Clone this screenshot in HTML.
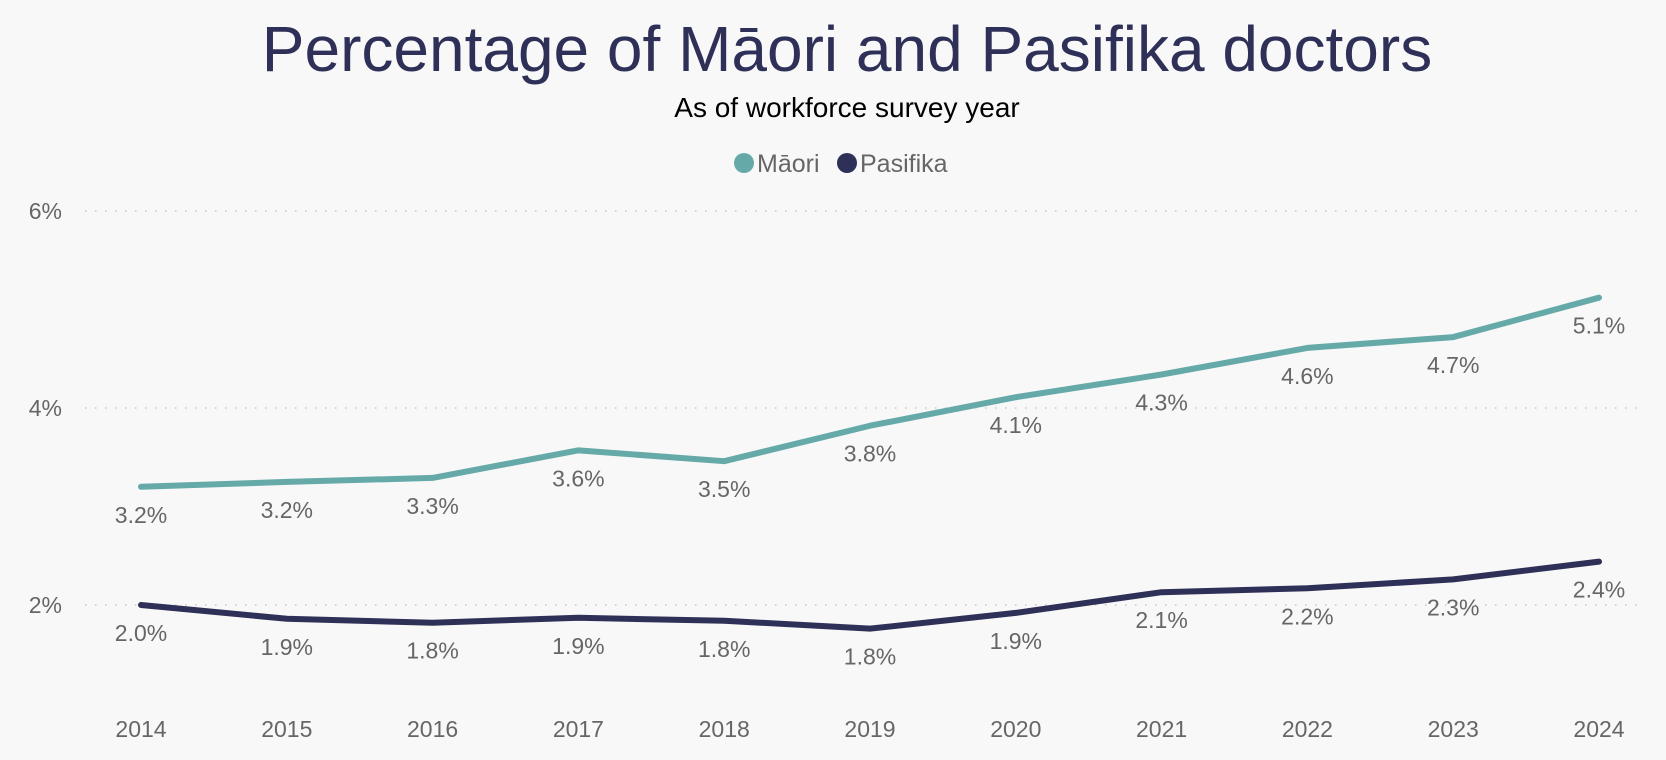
<!DOCTYPE html>
<html><head><meta charset="utf-8"><style>
body{margin:0;background:#f8f8f8;font-family:"Liberation Sans",sans-serif;}
svg{display:block}
</style></head><body>
<svg id="c" width="1666" height="760">
<rect width="1666" height="760" fill="#f8f8f8"/>
<text x="847" y="71" text-anchor="middle" font-size="64" fill="#2e3058">Percentage of Māori and Pasifika doctors</text>
<text x="847" y="117" text-anchor="middle" font-size="28" fill="#000">As of workforce survey year</text>
<g>
<g><circle cx="744" cy="163" r="10" fill="#66a9a9"/><text x="757" y="172" font-size="25" fill="#666">Māori</text></g>
<g><circle cx="847" cy="163" r="10" fill="#2e3058"/><text x="860" y="172" font-size="25" fill="#666">Pasifika</text></g>
</g>
<g id="grid"></g><g id="series"></g><g id="labels"></g>
</svg>
<script>
const years=["2014","2015","2016","2017","2018","2019","2020","2021","2022","2023","2024"];
const maori=[3.2,3.25,3.29,3.57,3.46,3.82,4.11,4.34,4.61,4.72,5.12];
const pasifika=[2.0,1.86,1.82,1.87,1.84,1.76,1.92,2.13,2.17,2.26,2.44];
const maoriLabels=["3.2%","3.2%","3.3%","3.6%","3.5%","3.8%","4.1%","4.3%","4.6%","4.7%","5.1%"];
const pasifikaLabels=["2.0%","1.9%","1.8%","1.9%","1.8%","1.8%","1.9%","2.1%","2.2%","2.3%","2.4%"];
const yTicks=[2,4,6];
const NS="http://www.w3.org/2000/svg";
const x=i=>141+i*(1599-141)/(years.length-1);
const y=v=>211+(6-v)*98.5;
function mk(t,a,p){const e=document.createElementNS(NS,t);for(const k in a)e.setAttribute(k,a[k]);p.appendChild(e);return e;}
const grid=document.getElementById('grid'),ser=document.getElementById('series'),lab=document.getElementById('labels');
yTicks.forEach(t=>{
 const l=mk('line',{x1:85,x2:1645,y1:y(t),y2:y(t),stroke:'#c8c8c8','stroke-width':1.5,'stroke-dasharray':'1.5 8.5'},grid);
 
 
 const tx=mk('text',{x:62,y:y(t)+8,'text-anchor':'end','font-size':23,fill:'#666'},grid);
 tx.textContent=t+'%';
 
 
});
years.forEach((yr,i)=>{
 const tx=mk('text',{x:x(i),y:737,'text-anchor':'middle','font-size':23,fill:'#666'},grid);
 tx.textContent=yr;
 
 
});
function line(vals,labels,color,name){
 const p=mk('path',{d:vals.map((v,i)=>(i?'L':'M')+x(i)+','+y(v)).join(''),fill:'none',stroke:color,'stroke-width':6,'stroke-linecap':'round','stroke-linejoin':'round'},ser);
 
 
 vals.forEach((v,i)=>{
  const t=mk('text',{x:x(i),y:y(v)+36,'text-anchor':'middle','font-size':23,fill:'#666'},lab);
  t.textContent=labels[i];
  
  
 });
}
line(maori,maoriLabels,'#66a9a9','maori');
line(pasifika,pasifikaLabels,'#2e3058','pasifika');
</script>
</body></html>
